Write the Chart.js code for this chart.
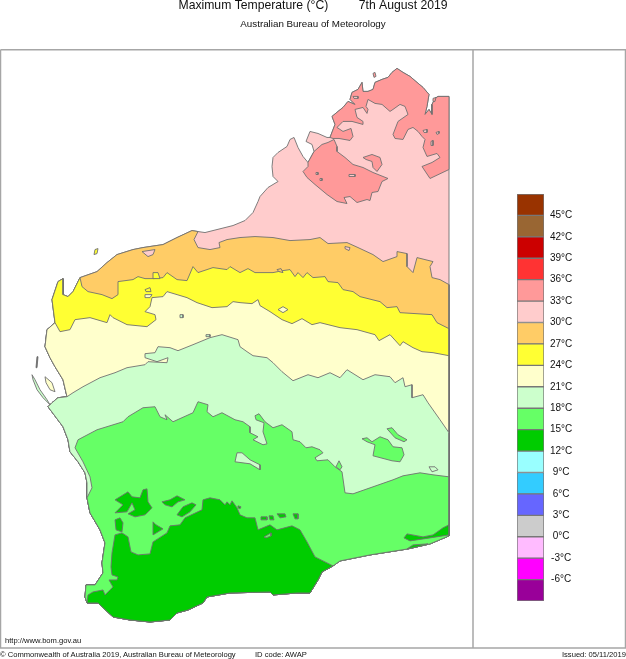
<!DOCTYPE html>
<html><head><meta charset="utf-8">
<style>
html,body{margin:0;padding:0;background:#fff;width:626px;height:659px;overflow:hidden}
canvas{position:absolute;display:block}
.t{position:absolute;font-family:"Liberation Sans",Arial,sans-serif;font-size:7.6px;color:#111;white-space:nowrap;line-height:10px}
</style>
<script src="https://cdn.jsdelivr.net/npm/chart.js@4"></script>
</head><body>
<canvas id="map" width="626" height="659" style="left:0;top:0"></canvas>
<canvas id="bar" width="70" height="431" style="left:517px;top:182px"></canvas>
<div class="t" style="left:5px;top:636px">http://www.bom.gov.au</div>
<div class="t" style="left:0;top:650px">© Commonwealth of Australia 2019, Australian Bureau of Meteorology</div>
<div class="t" style="left:255px;top:650px">ID code: AWAP</div>
<div class="t" style="right:0;top:650px">Issued: 05/11/2019</div>
<script>
// ---- colour bins (°C) ----
const binEdges=[-9,-6,-3,0,3,6,9,12,15,18,21,24,27,30,33,36,39,42,45,48];
const binColours=['#990099','#FF00FF','#FFBBFF','#CCCCCC','#6666FF','#33CCFF','#99FFFF','#00CC00','#66FF66','#CCFFCC','#FFFFCC','#FFFF33','#FFCC66','#FFCCCC','#FF9999','#FF3333','#CC0000','#996633','#993300'];
const C15='#00CC00',C18='#66FF66',C21='#CCFFCC',C24='#FFFFCC',C27='#FFFF33',C30='#FFCC66',C33='#FFCCCC',C36='#FF9999';

// ---- coastline, map grid units, east to west then round to the south ----
const coastKimberley=[[449,97],[438,97],[435,99],[432,105],[432,115],[429,110],[425,115],[427,107],[429,95],[423,88],[417,83],[410,77],[403,73],[397,69],[392,73],[388,78],[382,80],[375,83],[373,90],[368,92],[363,92],[362,83],[358,90],[352,93],[350,100],[355,105],[348,102],[343,108],[338,112],[332,117],[335,125],[330,138]];
const coastDampier=[[327,138],[318,134],[310,132],[306,142],[312,145],[314,152],[308,163]];
const coastPilbara=[[303,157],[298,148],[294,138],[290,140],[287,147],[278,153],[273,158],[272,167],[273,177],[278,182],[268,188],[260,197],[258,202],[253,213],[245,221],[233,226],[217,230],[205,233]];
const coast30=[[198,232],[192,231],[177,238],[163,245],[143,248],[133,250],[117,255],[107,263],[97,272],[80,278]];
const coast27=[[73,292],[68,297],[63,295],[63,279],[58,282],[52,300],[55,323]];
const coast24=[[47,330],[45,347],[50,358],[55,367],[63,380],[67,397]];
const coast21=[[58,398],[52,403],[48,407],[63,427],[68,440],[70,452],[78,462],[85,473],[87,483],[87,498]];
const coast18=[[90,513],[100,530],[105,543],[102,563],[103,573],[95,585],[86,585],[85,597],[87,603]];
const coast15=[[98,603],[113,617],[130,620],[150,622],[170,620],[177,613],[188,610],[203,603],[207,597],[230,593],[270,592],[273,595],[297,593],[310,593],[318,580],[322,572],[333,566]];
const coastBight=[[340,561],[370,555],[408,549],[430,544],[449,536]];

// ---- isotherms, west to east ----
const contour33North=[[333,139],[339,139],[350,141],[353,137],[351,129],[343,132],[337,128],[343,122],[352,122],[363,125],[363,122],[357,118],[355,110],[363,108],[367,114],[368,110],[366,107],[368,100],[375,104],[382,105],[390,112],[393,110],[400,105],[405,107],[408,115],[398,122],[393,135],[395,139],[403,140],[408,130],[413,128],[418,132],[422,137],[425,140],[423,148],[427,157],[437,154],[440,158],[432,163],[422,167],[430,179],[449,170]];
const patch33Canning=[[314,152],[322,145],[328,143],[334,140],[337,147],[337,152],[345,158],[353,165],[363,168],[373,173],[378,175],[388,179],[382,182],[378,192],[372,193],[370,201],[367,200],[357,203],[350,197],[344,198],[347,204],[337,202],[327,195],[315,185],[307,178],[303,172],[308,167],[308,163]];
const patch33Ring=[[363,158],[372,155],[380,158],[382,165],[377,172],[373,168],[372,162],[366,160]];
const contour30=[[198,232],[194,240],[198,248],[210,250],[220,248],[219,243],[227,240],[240,238],[255,237],[273,238],[290,241],[310,240],[320,238],[328,244],[347,243],[358,248],[373,255],[383,262],[397,257],[397,252],[407,254],[407,267],[413,273],[417,258],[433,262],[430,267],[432,278],[440,280],[449,285]];
const contour27=[[80,278],[82,287],[88,292],[102,295],[112,299],[118,295],[118,282],[133,280],[138,277],[145,279],[154,279],[163,278],[167,273],[177,280],[187,281],[193,267],[198,273],[213,268],[227,270],[230,267],[240,273],[248,269],[255,273],[273,273],[283,271],[290,270],[295,277],[298,273],[303,278],[307,273],[313,278],[325,277],[328,282],[338,283],[343,290],[353,292],[360,297],[372,300],[380,302],[387,308],[397,307],[400,313],[432,315],[437,323],[449,329]];
const contour24=[[55,323],[60,332],[70,330],[75,320],[90,318],[107,323],[110,315],[113,318],[127,325],[147,327],[156,320],[155,315],[145,312],[150,307],[152,298],[163,297],[167,292],[187,298],[197,303],[212,308],[227,307],[233,302],[240,303],[252,304],[258,300],[260,306],[270,312],[282,320],[292,324],[302,319],[312,325],[320,323],[340,328],[357,330],[375,335],[379,341],[390,335],[400,346],[403,342],[413,348],[422,352],[433,353],[449,356]];
const contour21=[[67,397],[73,393],[83,387],[100,378],[115,373],[127,368],[145,365],[148,362],[167,363],[168,358],[157,362],[145,358],[145,354],[155,353],[158,347],[170,348],[178,351],[193,345],[210,338],[222,335],[238,340],[240,347],[247,352],[253,356],[267,358],[273,363],[282,372],[293,381],[308,375],[318,378],[330,373],[340,378],[347,370],[363,380],[375,375],[390,377],[395,383],[403,378],[405,387],[412,385],[412,398],[423,395],[428,403],[440,420],[449,433]];
const contour18=[[87,498],[92,488],[90,477],[83,462],[75,448],[78,440],[97,430],[123,422],[128,417],[143,408],[155,407],[160,417],[167,420],[165,415],[173,422],[193,413],[198,402],[208,405],[207,412],[213,417],[222,413],[235,420],[243,422],[250,427],[250,433],[258,437],[253,440],[263,445],[267,444],[263,432],[264,423],[256,420],[255,416],[259,414],[265,422],[273,428],[282,425],[292,432],[293,440],[300,442],[306,448],[312,447],[320,450],[323,453],[315,458],[317,461],[328,460],[335,467],[342,472],[345,493],[353,494],[373,487],[393,480],[403,476],[420,473],[433,475],[449,477]];
const contour15=[[87,603],[88,595],[93,592],[103,590],[105,595],[113,587],[109,580],[117,580],[118,577],[112,575],[111,567],[112,553],[115,535],[122,533],[128,537],[131,552],[138,555],[150,554],[153,542],[167,533],[170,526],[180,525],[185,518],[202,510],[203,500],[210,498],[220,500],[225,505],[227,502],[230,505],[232,501],[237,508],[240,515],[247,518],[255,518],[258,530],[270,525],[277,530],[292,526],[300,530],[307,542],[315,557]];

// ---- enclosed patches ----
const holes33=[[423,131],[427,130],[427,133],[424,133]];
const holes33b=[[436,133],[439,132],[439,134],[437,135]];
const holes33c=[[431,142],[433,141],[433,146],[431,146]];
const holes33d=[[316,173],[318,173],[318,175],[316,175]];
const holes33e=[[320,179],[322,179],[322,181],[320,181]];
const holes33f=[[349,175],[355,175],[355,177],[349,177]];
const holes33g=[[353,97],[358,97],[358,99],[354,99]];
const islandNorthA=[[373,74],[375,73],[376,77],[374,78]];
const islandNorthB=[[433,99],[436,98],[435,102],[433,102]];
const patch30a=[[345,247],[350,248],[349,251],[345,249]];
const patch33West=[[142,252],[155,250],[153,255],[148,257]];
const islandYellowNW=[[95,250],[98,249],[97,254],[94,255]];
const patch27a=[[153,273],[158,273],[160,279],[153,279]];
const patch27b=[[277,270],[281,269],[283,273],[279,272]];
const patch24a=[[145,290],[150,288],[151,292],[146,292]];
const patch24b=[[145,295],[152,295],[150,298],[145,298]];
const patch24c=[[278,310],[283,307],[288,310],[283,313]];
const patch24d=[[180,315],[183,315],[183,318],[180,318]];
const patch21a=[[206,335],[210,335],[210,337],[206,337]];
const islandGarden=[[32,375],[35,380],[40,390],[47,400],[50,405],[43,398],[37,390],[33,380]];
const islandDirk=[[45,377],[52,383],[55,392],[50,390],[46,383]];
const islandBernier=[[37,357],[36,368],[37,368],[38,357]];
const patch18a=[[362,439],[367,438],[372,442],[380,437],[388,440],[393,447],[402,448],[404,455],[400,462],[392,461],[373,456],[375,445],[367,442]];
const patch18b=[[387,429],[392,428],[398,435],[407,440],[404,442],[395,438]];
const patch18c=[[336,467],[339,461],[342,467],[340,470]];
const patch21b=[[237,453],[242,453],[250,460],[260,465],[260,470],[250,464],[235,462]];
const patch21d=[[429,467],[435,467],[438,470],[432,472]];
const patch15a=[[115,500],[120,497],[128,492],[132,497],[140,498],[143,490],[147,489],[148,502],[152,508],[145,515],[135,517],[128,514],[135,510],[132,503],[127,512],[115,513],[123,505]];
const patch15b=[[162,502],[170,500],[177,496],[185,500],[178,502],[172,507],[165,505]];
const patch15c=[[177,515],[183,507],[192,503],[196,505],[190,512],[182,517]];
const patch15d=[[115,520],[120,518],[123,523],[122,532],[116,530]];
const patch15e=[[153,522],[156,525],[163,529],[153,535]];
const patch15f=[[261,517],[267,517],[267,520],[261,520]];
const patch15g=[[269,516],[273,516],[274,520],[270,520]];
const patch15h=[[277,514],[285,514],[286,517],[280,518]];
const patch15i=[[293,514],[298,514],[298,519],[295,519]];
const patch15j=[[238,506],[241,507],[240,509],[238,508]];
const patch15k=[[404,538],[407,534],[423,537],[433,535],[443,528],[449,525],[449,535],[430,538],[410,541]];
const patch15l=[[407,549],[413,545],[428,544],[417,547]];
const patch18d=[[264,537],[271,533],[271,536],[266,538]];

const frameBox=[[0.5,50.5],[625.5,50.5],[625.5,648],[0.5,648],[0.5,50.5]];
const frameDivider=[[473,50.5],[473,648]];

const rev=a=>a.slice().reverse();
const band=(contour,...segs)=>contour.concat(...segs.map(rev));
const stateOutline=[...coastKimberley,...coastDampier,...coastPilbara,...coast30,...coast27,...coast24,...coast21,...coast18,...coast15,...coastBight];

const layers=[
 [C33,stateOutline],
 [C36,coastKimberley.concat(contour33North)],
 [C36,patch33Canning],[C36,patch33Ring],[C36,islandNorthA],[C36,islandNorthB],
 [C33,holes33],[C33,holes33b],[C33,holes33c],[C33,holes33d],[C33,holes33e],[C33,holes33f],[C33,holes33g],
 [C30,band(contour30,coastBight,coast15,coast18,coast21,coast24,coast27,coast30)],
 [C33,patch30a],[C33,patch33West],
 [C27,band(contour27,coastBight,coast15,coast18,coast21,coast24,coast27)],
 [C27,islandYellowNW],[C27,patch27a],[C30,patch27b],
 [C24,band(contour24,coastBight,coast15,coast18,coast21,coast24)],
 [C27,patch24a],[C24,patch24b],[C24,patch24c],[C21,patch24d],
 [C21,band(contour21,coastBight,coast15,coast18,coast21)],
 [C21,patch21a],[C21,islandGarden],[C24,islandDirk],['#555555',islandBernier],
 [C18,band(contour18,coastBight,coast15,coast18)],
 [C18,patch18a],[C18,patch18b],[C18,patch18c],[C21,patch21b],[C21,patch21d],
 [C15,band(contour15,coast15)],
 [C15,patch15a],[C15,patch15b],[C15,patch15c],[C15,patch15d],[C15,patch15e],[C15,patch15f],[C15,patch15g],[C15,patch15h],[C15,patch15i],[C15,patch15j],[C15,patch15k],[C15,patch15l],[C18,patch18d]
];
const toXY=p=>p.map(([x,y])=>({x,y}));
const mapSets=layers.map(([col,pts],i)=>({
  data:toXY(pts.concat([pts[0]])),showLine:true,pointRadius:0,borderColor:'#707070',borderWidth:0.9,
  backgroundColor:col,fill:'shape',tension:0,order:layers.length-i+2,clip:false
}));
[frameBox,frameDivider].forEach(f=>mapSets.push({data:toXY(f),showLine:true,pointRadius:0,borderColor:'#a6a6a6',borderWidth:1.5,fill:false,order:0,clip:false}));

Chart.defaults.font.family='"Liberation Sans",Arial,sans-serif';
new Chart(document.getElementById('map'),{
 type:'scatter',
 data:{datasets:mapSets},
 options:{responsive:false,animation:false,devicePixelRatio:1,
  layout:{padding:{left:0,right:0,top:0,bottom:11}},
  plugins:{legend:{display:false},tooltip:{enabled:false},
   filler:{drawTime:'beforeDatasetDraw'},
   title:{display:true,text:'Maximum Temperature (°C)         7th August 2019',color:'#111',font:{size:12.2,weight:'normal',lineHeight:1},padding:{top:0,bottom:6.4}},
   subtitle:{display:true,text:'Australian Bureau of Meteorology',color:'#111',font:{size:9.8,weight:'normal'},padding:{top:0,bottom:19}}},
  scales:{x:{type:'linear',min:0,max:626,display:false},y:{type:'linear',min:50,max:648,reverse:true,display:false}}
 }
});
const barSets=binColours.map((c,i)=>({data:[[binEdges[i],binEdges[i+1]]],backgroundColor:c,borderColor:'#777777',borderWidth:1,borderSkipped:false,barPercentage:1,categoryPercentage:1}));
new Chart(document.getElementById('bar'),{
 type:'bar',
 data:{labels:['°C'],datasets:barSets},
 options:{responsive:false,animation:false,devicePixelRatio:1,
  layout:{padding:{top:6,bottom:4,left:0,right:0}},
  plugins:{legend:{display:false},tooltip:{enabled:false}},
  scales:{
   x:{stacked:true,display:false},
   y:{position:'right',min:-9,max:48,border:{display:false},grid:{display:false,drawTicks:false},
      afterFit:s=>{s.width=43},
      ticks:{stepSize:3,color:'#111',font:{size:10},padding:6,crossAlign:'center',autoSkip:false,maxRotation:0,
        callback:v=>(v===-9||v===48)?'':v+'°C'}}
  }
 }
});
</script>
</body></html>
